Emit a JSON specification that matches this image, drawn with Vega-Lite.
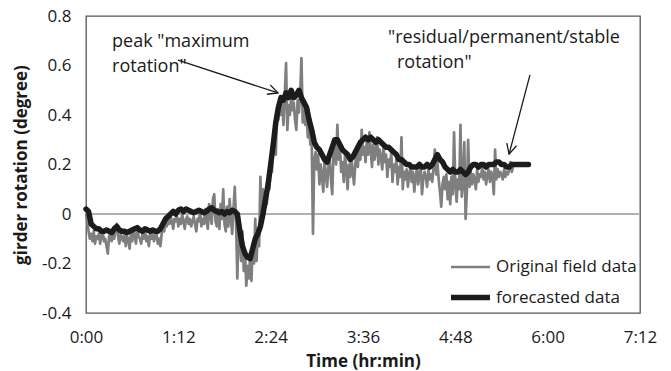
{
  "$schema": "https://vega.github.io/schema/vega-lite/v6.json",
  "width": 554,
  "height": 297,
  "autosize": {"type": "none"},
  "padding": {"left": 86, "top": 16, "right": 31, "bottom": 58},
  "background": "white",
  "config": {
    "font": "Open Sans",
    "view": {"stroke": "#555555", "strokeWidth": 1.3},
    "axis": {"grid": false, "ticks": false, "domain": false, "labelFontSize": 17, "labelColor": "#1a1a1a", "titleFontSize": 17, "titleFontWeight": "bold", "titleColor": "#1a1a1a"},
    "legend": {"labelFontSize": 17, "labelColor": "#1a1a1a"}
  },
  "datasets": {
    "orig": [
      {"t":0,"v":0.0},{"t":1,"v":-0.03},{"t":2,"v":-0.07},{"t":3,"v":-0.1},{"t":4,"v":-0.08},{"t":5,"v":-0.11},{"t":6,"v":-0.07},{"t":7,"v":-0.12},{"t":8,"v":-0.09},{"t":9,"v":-0.1},
      {"t":10,"v":-0.08},{"t":11,"v":-0.12},{"t":12,"v":-0.09},{"t":13,"v":-0.07},{"t":14,"v":-0.11},{"t":15,"v":-0.1},{"t":16,"v":-0.13},{"t":17,"v":-0.16},{"t":18,"v":-0.09},{"t":19,"v":-0.08},
      {"t":20,"v":-0.11},{"t":21,"v":-0.07},{"t":22,"v":-0.1},{"t":23,"v":-0.06},{"t":24,"v":-0.04},{"t":25,"v":-0.09},{"t":26,"v":-0.12},{"t":27,"v":-0.08},{"t":28,"v":-0.1},{"t":29,"v":-0.11},
      {"t":30,"v":-0.08},{"t":31,"v":-0.13},{"t":32,"v":-0.09},{"t":33,"v":-0.1},{"t":34,"v":-0.14},{"t":35,"v":-0.08},{"t":36,"v":-0.11},{"t":37,"v":-0.07},{"t":38,"v":-0.09},{"t":39,"v":-0.12},
      {"t":40,"v":-0.05},{"t":41,"v":-0.09},{"t":42,"v":-0.1},{"t":43,"v":-0.12},{"t":44,"v":-0.08},{"t":45,"v":-0.1},{"t":46,"v":-0.06},{"t":47,"v":-0.11},{"t":48,"v":-0.09},{"t":49,"v":-0.13},
      {"t":50,"v":-0.08},{"t":51,"v":-0.1},{"t":52,"v":-0.07},{"t":53,"v":-0.11},{"t":54,"v":-0.09},{"t":55,"v":-0.08},{"t":56,"v":-0.12},{"t":57,"v":-0.1},{"t":58,"v":-0.13},{"t":59,"v":-0.08},
      {"t":60,"v":-0.05},{"t":61,"v":-0.07},{"t":62,"v":-0.03},{"t":63,"v":-0.05},{"t":64,"v":-0.02},{"t":65,"v":-0.04},{"t":66,"v":-0.01},{"t":67,"v":-0.03},{"t":68,"v":-0.06},{"t":69,"v":-0.02},
      {"t":70,"v":-0.03},{"t":71,"v":-0.01},{"t":72,"v":-0.05},{"t":73,"v":-0.02},{"t":74,"v":-0.04},{"t":75,"v":0.0},{"t":76,"v":-0.03},{"t":77,"v":-0.06},{"t":78,"v":-0.02},{"t":79,"v":-0.01},
      {"t":80,"v":-0.04},{"t":81,"v":-0.02},{"t":82,"v":-0.05},{"t":83,"v":-0.03},{"t":84,"v":-0.01},{"t":85,"v":-0.04},{"t":86,"v":-0.07},{"t":87,"v":-0.02},{"t":88,"v":-0.03},{"t":89,"v":0.01},
      {"t":90,"v":-0.05},{"t":91,"v":-0.02},{"t":92,"v":-0.04},{"t":93,"v":0.02},{"t":94,"v":-0.03},{"t":95,"v":-0.06},{"t":96,"v":0.04},{"t":97,"v":-0.01},{"t":98,"v":-0.04},{"t":99,"v":0.06},
      {"t":100,"v":0.08},{"t":101,"v":-0.03},{"t":102,"v":-0.05},{"t":103,"v":0.02},{"t":104,"v":-0.06},{"t":105,"v":0.04},{"t":106,"v":-0.02},{"t":107,"v":0.1},{"t":108,"v":-0.04},{"t":109,"v":-0.07},
      {"t":110,"v":0.03},{"t":111,"v":-0.05},{"t":112,"v":0.06},{"t":113,"v":-0.02},{"t":114,"v":-0.08},{"t":115,"v":0.02},{"t":116,"v":0.11},{"t":117,"v":-0.03},{"t":118,"v":-0.26},{"t":119,"v":-0.04},
      {"t":120,"v":-0.12},{"t":121,"v":-0.19},{"t":122,"v":-0.07},{"t":123,"v":-0.23},{"t":124,"v":-0.15},{"t":125,"v":-0.29},{"t":126,"v":-0.21},{"t":127,"v":-0.26},{"t":128,"v":-0.17},{"t":129,"v":-0.27},
      {"t":130,"v":-0.12},{"t":131,"v":-0.2},{"t":132,"v":-0.02},{"t":133,"v":-0.19},{"t":134,"v":-0.06},{"t":135,"v":-0.13},{"t":136,"v":0.15},{"t":137,"v":-0.03},{"t":138,"v":0.1},{"t":139,"v":0.02},
      {"t":140,"v":0.08},{"t":141,"v":0.04},{"t":142,"v":0.14},{"t":143,"v":0.1},{"t":144,"v":0.21},{"t":145,"v":0.17},{"t":146,"v":0.3},{"t":147,"v":0.26},{"t":148,"v":0.24},{"t":149,"v":0.42},
      {"t":150,"v":0.38},{"t":151,"v":0.45},{"t":152,"v":0.4},{"t":153,"v":0.46},{"t":154,"v":0.36},{"t":155,"v":0.48},{"t":156,"v":0.61},{"t":157,"v":0.34},{"t":158,"v":0.44},{"t":159,"v":0.4},
      {"t":160,"v":0.47},{"t":161,"v":0.42},{"t":162,"v":0.45},{"t":163,"v":0.38},{"t":164,"v":0.34},{"t":165,"v":0.46},{"t":166,"v":0.41},{"t":167,"v":0.48},{"t":168,"v":0.63},{"t":169,"v":0.37},
      {"t":170,"v":0.42},{"t":171,"v":0.36},{"t":172,"v":0.4},{"t":173,"v":0.31},{"t":174,"v":0.35},{"t":175,"v":0.28},{"t":176,"v":0.3},{"t":177,"v":-0.08},{"t":178,"v":0.22},{"t":179,"v":0.25},
      {"t":180,"v":0.18},{"t":181,"v":0.24},{"t":182,"v":0.12},{"t":183,"v":0.2},{"t":184,"v":0.15},{"t":185,"v":0.09},{"t":186,"v":0.22},{"t":187,"v":0.16},{"t":188,"v":0.11},{"t":189,"v":0.19},
      {"t":190,"v":0.23},{"t":191,"v":0.14},{"t":192,"v":0.08},{"t":193,"v":0.25},{"t":194,"v":0.3},{"t":195,"v":0.2},{"t":196,"v":0.36},{"t":197,"v":0.22},{"t":198,"v":0.27},{"t":199,"v":0.17},
      {"t":200,"v":0.21},{"t":201,"v":0.13},{"t":202,"v":0.24},{"t":203,"v":0.18},{"t":204,"v":0.1},{"t":205,"v":0.2},{"t":206,"v":0.15},{"t":207,"v":0.23},{"t":208,"v":0.17},{"t":209,"v":0.12},
      {"t":210,"v":0.2},{"t":211,"v":0.25},{"t":212,"v":0.19},{"t":213,"v":0.28},{"t":214,"v":0.22},{"t":215,"v":0.34},{"t":216,"v":0.24},{"t":217,"v":0.27},{"t":218,"v":0.21},{"t":219,"v":0.3},
      {"t":220,"v":0.24},{"t":221,"v":0.33},{"t":222,"v":0.26},{"t":223,"v":0.19},{"t":224,"v":0.28},{"t":225,"v":0.22},{"t":226,"v":0.25},{"t":227,"v":0.31},{"t":228,"v":0.2},{"t":229,"v":0.26},
      {"t":230,"v":0.23},{"t":231,"v":0.18},{"t":232,"v":0.27},{"t":233,"v":0.21},{"t":234,"v":0.24},{"t":235,"v":0.15},{"t":236,"v":0.22},{"t":237,"v":0.19},{"t":238,"v":0.25},{"t":239,"v":0.13},
      {"t":240,"v":0.2},{"t":241,"v":0.17},{"t":242,"v":0.22},{"t":243,"v":0.12},{"t":244,"v":0.19},{"t":245,"v":0.15},{"t":246,"v":0.31},{"t":247,"v":0.1},{"t":248,"v":0.17},{"t":249,"v":0.14},
      {"t":250,"v":0.18},{"t":251,"v":0.11},{"t":252,"v":0.16},{"t":253,"v":0.19},{"t":254,"v":0.13},{"t":255,"v":0.17},{"t":256,"v":0.09},{"t":257,"v":0.15},{"t":258,"v":0.18},{"t":259,"v":0.12},
      {"t":260,"v":0.16},{"t":261,"v":0.2},{"t":262,"v":0.08},{"t":263,"v":0.14},{"t":264,"v":0.17},{"t":265,"v":0.15},{"t":266,"v":0.11},{"t":267,"v":0.18},{"t":268,"v":0.14},{"t":269,"v":0.16},
      {"t":270,"v":0.13},{"t":271,"v":0.19},{"t":272,"v":0.26},{"t":273,"v":0.16},{"t":274,"v":0.21},{"t":275,"v":0.14},{"t":276,"v":0.09},{"t":277,"v":0.03},{"t":278,"v":0.12},{"t":279,"v":0.15},
      {"t":280,"v":0.1},{"t":281,"v":0.16},{"t":282,"v":0.06},{"t":283,"v":0.13},{"t":284,"v":0.04},{"t":285,"v":0.15},{"t":286,"v":0.08},{"t":287,"v":0.33},{"t":288,"v":0.12},{"t":289,"v":0.05},
      {"t":290,"v":0.14},{"t":291,"v":0.1},{"t":292,"v":0.36},{"t":293,"v":0.07},{"t":294,"v":0.13},{"t":295,"v":0.29},{"t":296,"v":-0.02},{"t":297,"v":0.09},{"t":298,"v":0.3},{"t":299,"v":0.11},
      {"t":300,"v":0.17},{"t":301,"v":0.12},{"t":302,"v":0.16},{"t":303,"v":0.14},{"t":304,"v":0.1},{"t":305,"v":0.18},{"t":306,"v":0.13},{"t":307,"v":0.16},{"t":308,"v":0.15},{"t":309,"v":0.19},
      {"t":310,"v":0.14},{"t":311,"v":0.17},{"t":312,"v":0.12},{"t":313,"v":0.16},{"t":314,"v":0.18},{"t":315,"v":0.13},{"t":316,"v":0.17},{"t":317,"v":0.15},{"t":318,"v":0.08},{"t":319,"v":0.26},
      {"t":320,"v":0.14},{"t":321,"v":0.18},{"t":322,"v":0.15},{"t":323,"v":0.17},{"t":324,"v":0.16},{"t":325,"v":0.14},{"t":326,"v":0.18},{"t":327,"v":0.15},{"t":328,"v":0.17},{"t":329,"v":0.16},
      {"t":330,"v":0.18},{"t":331,"v":0.21},{"t":332,"v":0.17},{"t":333,"v":0.19}
    ],
    "fc": [
      {"t":0,"v":0.02},{"t":2,"v":0.01},{"t":4,"v":-0.04},{"t":6,"v":-0.05},{"t":8,"v":-0.06},{"t":10,"v":-0.06},{"t":12,"v":-0.07},{"t":14,"v":-0.07},{"t":16,"v":-0.065},{"t":18,"v":-0.07},
      {"t":20,"v":-0.075},{"t":22,"v":-0.06},{"t":24,"v":-0.05},{"t":26,"v":-0.065},{"t":28,"v":-0.07},{"t":30,"v":-0.07},{"t":32,"v":-0.075},{"t":34,"v":-0.07},{"t":36,"v":-0.065},{"t":38,"v":-0.06},
      {"t":40,"v":-0.055},{"t":42,"v":-0.065},{"t":44,"v":-0.07},{"t":46,"v":-0.06},{"t":48,"v":-0.065},{"t":50,"v":-0.07},{"t":52,"v":-0.065},{"t":54,"v":-0.07},{"t":56,"v":-0.07},{"t":58,"v":-0.06},
      {"t":60,"v":-0.04},{"t":62,"v":-0.02},{"t":64,"v":-0.01},{"t":66,"v":0.0},{"t":68,"v":0.01},{"t":70,"v":0.0},{"t":72,"v":0.015},{"t":74,"v":0.02},{"t":76,"v":0.01},{"t":78,"v":0.02},
      {"t":80,"v":0.015},{"t":82,"v":0.01},{"t":84,"v":0.005},{"t":86,"v":0.01},{"t":88,"v":0.015},{"t":90,"v":0.01},{"t":92,"v":0.005},{"t":94,"v":0.01},{"t":96,"v":0.02},{"t":98,"v":0.025},
      {"t":100,"v":0.015},{"t":102,"v":0.01},{"t":104,"v":0.005},{"t":106,"v":0.01},{"t":108,"v":0.0},{"t":110,"v":0.01},{"t":112,"v":0.005},{"t":114,"v":0.015},{"t":116,"v":0.01},{"t":118,"v":0.0},
      {"t":120,"v":-0.07},{"t":122,"v":-0.13},{"t":124,"v":-0.16},{"t":126,"v":-0.175},{"t":128,"v":-0.18},{"t":130,"v":-0.14},{"t":132,"v":-0.1},{"t":134,"v":-0.08},{"t":136,"v":-0.05},{"t":138,"v":0.0},
      {"t":140,"v":0.06},{"t":142,"v":0.12},{"t":144,"v":0.2},{"t":146,"v":0.28},{"t":148,"v":0.37},{"t":150,"v":0.43},{"t":152,"v":0.47},{"t":154,"v":0.46},{"t":156,"v":0.49},{"t":158,"v":0.47},
      {"t":160,"v":0.5},{"t":162,"v":0.47},{"t":164,"v":0.48},{"t":166,"v":0.5},{"t":168,"v":0.47},{"t":170,"v":0.45},{"t":172,"v":0.43},{"t":174,"v":0.38},{"t":176,"v":0.34},{"t":178,"v":0.29},
      {"t":180,"v":0.27},{"t":182,"v":0.26},{"t":184,"v":0.24},{"t":186,"v":0.22},{"t":188,"v":0.21},{"t":190,"v":0.24},{"t":192,"v":0.27},{"t":194,"v":0.3},{"t":196,"v":0.3},{"t":198,"v":0.28},
      {"t":200,"v":0.26},{"t":202,"v":0.25},{"t":204,"v":0.24},{"t":206,"v":0.22},{"t":208,"v":0.23},{"t":210,"v":0.25},{"t":212,"v":0.27},{"t":214,"v":0.29},{"t":216,"v":0.3},{"t":218,"v":0.31},
      {"t":220,"v":0.3},{"t":222,"v":0.31},{"t":224,"v":0.3},{"t":226,"v":0.29},{"t":228,"v":0.3},{"t":230,"v":0.29},{"t":232,"v":0.28},{"t":234,"v":0.27},{"t":236,"v":0.27},{"t":238,"v":0.26},
      {"t":240,"v":0.25},{"t":242,"v":0.24},{"t":244,"v":0.22},{"t":246,"v":0.22},{"t":248,"v":0.21},{"t":250,"v":0.2},{"t":252,"v":0.2},{"t":254,"v":0.19},{"t":256,"v":0.19},{"t":258,"v":0.19},
      {"t":260,"v":0.2},{"t":262,"v":0.19},{"t":264,"v":0.19},{"t":266,"v":0.2},{"t":268,"v":0.19},{"t":270,"v":0.2},{"t":272,"v":0.22},{"t":274,"v":0.24},{"t":276,"v":0.22},{"t":278,"v":0.21},
      {"t":280,"v":0.19},{"t":282,"v":0.18},{"t":284,"v":0.17},{"t":286,"v":0.18},{"t":288,"v":0.17},{"t":290,"v":0.17},{"t":292,"v":0.18},{"t":294,"v":0.17},{"t":296,"v":0.16},{"t":298,"v":0.17},
      {"t":300,"v":0.19},{"t":302,"v":0.2},{"t":304,"v":0.2},{"t":306,"v":0.19},{"t":308,"v":0.2},{"t":310,"v":0.2},{"t":312,"v":0.19},{"t":314,"v":0.2},{"t":316,"v":0.2},{"t":318,"v":0.2},
      {"t":320,"v":0.21},{"t":322,"v":0.21},{"t":324,"v":0.2},{"t":326,"v":0.2},{"t":328,"v":0.19},{"t":330,"v":0.19},{"t":332,"v":0.2},{"t":334,"v":0.2},{"t":338,"v":0.2},{"t":345,"v":0.2}
    ],
    "notes": [
      {"t":20.3,"v":0.695,"txt":"peak \"maximum"},
      {"t":20.3,"v":0.594,"txt":"rotation\""},
      {"t":235.5,"v":0.711,"txt":"\"residual/permanent/stable"},
      {"t":242.5,"v":0.61,"txt":"rotation\""}
    ],
    "arrows": [
      {"t":71.7,"v":0.622,"t2":149.7,"v2":0.489,"a":19.9},
      {"t":346.2,"v":0.562,"t2":329.9,"v2":0.242,"a":104.9}
    ]
  },
  "encoding": {
    "x": {
      "field": "t", "type": "quantitative",
      "scale": {"domain": [0, 432], "nice": false, "zero": false},
      "axis": {"values": [0, 72, 144, 216, 288, 360, 432], "labelExpr": "floor(datum.value/60) + ':' + (datum.value % 60 < 10 ? '0' : '') + (datum.value % 60)", "labelPadding": 16, "title": "Time (hr:min)", "titlePadding": 8, "labelFlush": false}
    },
    "y": {
      "field": "v", "type": "quantitative",
      "scale": {"domain": [-0.4, 0.8], "nice": false, "zero": false},
      "axis": {"values": [-0.4, -0.2, 0, 0.2, 0.4, 0.6, 0.8], "labelExpr": "datum.value == 0 ? '0' : replace(format(datum.value, '.1f'), '\u2212', '-')", "labelPadding": 15, "title": "girder rotation (degree)", "titlePadding": 11}
    }
  },
  "layer": [
    {
      "data": {"values": [{"v": 0}]},
      "mark": {"type": "rule", "color": "#b0b0b0", "strokeWidth": 2},
      "encoding": {"x": null}
    },
    {
      "data": {"name": "orig"},
      "mark": {"type": "line", "strokeJoin": "round"},
      "encoding": {
        "color": {"datum": "Original field data", "type": "nominal", "scale": {"domain": ["Original field data", "forecasted data"], "range": ["#7f7f7f", "#1c1c1c"]}, "legend": {"title": null, "orient": "none", "legendX": 362, "legendY": 230, "symbolType": "stroke", "symbolSize": 1521, "labelOffset": 3, "rowPadding": -3, "padding": 0}},
        "strokeWidth": {"datum": "Original field data", "type": "nominal", "scale": {"domain": ["Original field data", "forecasted data"], "range": [2.7, 5.5]}, "legend": {"title": null, "orient": "none", "legendX": 362, "legendY": 230, "symbolType": "stroke", "symbolSize": 1521, "labelOffset": 3, "rowPadding": -3, "padding": 0}}
      }
    },
    {
      "data": {"name": "fc"},
      "mark": {"type": "line", "strokeJoin": "round", "strokeCap": "round"},
      "encoding": {
        "color": {"datum": "forecasted data", "type": "nominal"},
        "strokeWidth": {"datum": "forecasted data", "type": "nominal"}
      }
    },
    {
      "data": {"name": "arrows"},
      "mark": {"type": "rule", "color": "#1a1a1a", "strokeWidth": 1.3},
      "encoding": {"x2": {"field": "t2"}, "y2": {"field": "v2"}}
    },
    {
      "data": {"name": "arrows"},
      "mark": {"type": "point", "shape": "M-1,-0.5L0,0L-1,0.5", "filled": false, "stroke": "#1a1a1a", "strokeWidth": 1.3, "size": 400, "opacity": 1},
      "encoding": {"x": {"field": "t2", "type": "quantitative"}, "y": {"field": "v2", "type": "quantitative"}, "angle": {"field": "a", "type": "quantitative", "scale": null}}
    },
    {
      "data": {"name": "notes"},
      "mark": {"type": "text", "align": "left", "baseline": "middle", "fontSize": 18, "color": "#1a1a1a"},
      "encoding": {"text": {"field": "txt"}}
    }
  ]
}
